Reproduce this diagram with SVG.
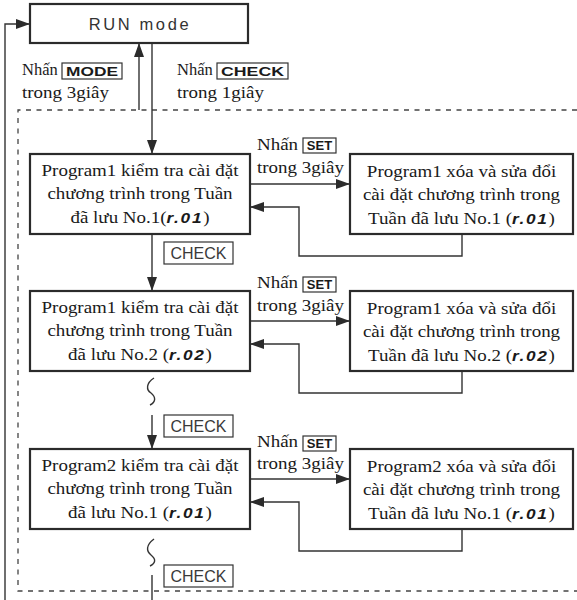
<svg xmlns="http://www.w3.org/2000/svg" width="577" height="600" viewBox="0 0 577 600">
<style>
.bg{fill:#fff}
.box{fill:#fff;stroke:#2b2b2b;stroke-width:2.2}
.key{fill:#fff;stroke:#333;stroke-width:1.2}
.ln{fill:none;stroke:#333;stroke-width:1.4}
.dash{fill:none;stroke:#444;stroke-width:1.3;stroke-dasharray:5 5.5}
.t{font-family:"Liberation Serif","DejaVu Serif",serif;font-size:16.5px;fill:#1a1a1a}
.seg{font-family:"Liberation Sans",Arial,sans-serif;font-weight:bold;font-style:italic;font-size:15px;letter-spacing:1.5px}
.k{font-family:"Liberation Sans",Arial,sans-serif;font-weight:bold;font-size:13px;fill:#1a1a1a}
.c{font-family:"Liberation Sans",Arial,sans-serif;font-size:16px;fill:#3a3a3a}
.run{font-family:"Liberation Sans",Arial,sans-serif;font-size:16.5px;letter-spacing:2.6px;fill:#333}
</style>
<defs>
<marker id="ah" markerWidth="14" markerHeight="10" refX="14" refY="5" orient="auto" markerUnits="userSpaceOnUse"><path d="M0,0 L14,5 L0,10 z" fill="#2b2b2b"/></marker>
</defs>
<rect class="bg" x="0" y="0" width="577" height="600"/>

<g id="connectors">
<path class="dash" d="M577,110 H18 V591 H577"/>
<path class="ln" d="M5,600 V24 H30" marker-end="url(#ah)"/>
<path class="ln" d="M139,110 V43" marker-end="url(#ah)"/>
<path class="ln" d="M152,43 V154" marker-end="url(#ah)"/>
<path class="ln" d="M250,184 H350" marker-end="url(#ah)"/>
<path class="ln" d="M462,234 V256 H299 V207 H250" marker-end="url(#ah)"/>
<path class="ln" d="M152,234 V291" marker-end="url(#ah)"/>
<path class="ln" d="M250,321 H350" marker-end="url(#ah)"/>
<path class="ln" d="M462,371 V393 H299 V344 H250" marker-end="url(#ah)"/>
<path class="ln" d="M154,378 C146,383 146,390 151,393 C156,397 156,402 150,405"/>
<path class="ln" d="M152,415 V449" marker-end="url(#ah)"/>
<path class="ln" d="M250,479 H350" marker-end="url(#ah)"/>
<path class="ln" d="M462,529 V551 H299 V502 H250" marker-end="url(#ah)"/>
<path class="ln" d="M154,539 C146,545 146,551 151,555 C156,559 156,563 150,566"/>
<path class="ln" d="M152,575 V600"/>
</g>

<g id="run-mode">
<rect class="box" x="30" y="4" width="218" height="39"/>
<text class="run" x="140" y="30" text-anchor="middle">RUN mode</text>
</g>

<g id="label-mode">
<text class="t" x="22" y="75" font-size="16">Nhấn</text>
<rect class="key" x="62" y="63" width="60" height="16"/>
<text class="k" x="92" y="76" text-anchor="middle" font-size="14" textLength="52" lengthAdjust="spacingAndGlyphs">MODE</text>
<text class="t" transform="translate(22 98) scale(1.15 1)">trong 3giây</text>
</g>

<g id="label-check-top">
<text class="t" x="177" y="75" font-size="16">Nhấn</text>
<rect class="key" x="217" y="63" width="71" height="16"/>
<text class="k" x="252.5" y="76" text-anchor="middle" font-size="14" textLength="63" lengthAdjust="spacingAndGlyphs">CHECK</text>
<text class="t" transform="translate(177 98) scale(1.15 1)">trong 1giây</text>
</g>

<g id="p1-check-1">
<rect class="box" x="30" y="154" width="220" height="80"/>
<text class="t" transform="translate(140 176) scale(1.15 1)" text-anchor="middle">Program1 kiểm tra cài đặt</text>
<text class="t" transform="translate(140 199) scale(1.15 1)" text-anchor="middle">chương trình trong Tuần</text>
<text class="t" transform="translate(140 223) scale(1.15 1)" text-anchor="middle">đã lưu No.1(<tspan class="seg">r.01</tspan>)</text>
</g>

<g id="set-label-1">
<text class="t" transform="translate(257 150) scale(1.15 1)">Nhấn</text>
<rect class="key" x="303" y="138" width="33" height="15"/>
<text class="k" x="319.5" y="150" text-anchor="middle">SET</text>
<text class="t" transform="translate(257 173) scale(1.15 1)">trong 3giây</text>
</g>

<g id="p1-edit-1">
<rect class="box" x="350" y="154" width="223" height="80"/>
<text class="t" transform="translate(461.5 177) scale(1.15 1)" text-anchor="middle">Program1 xóa và sửa đổi</text>
<text class="t" transform="translate(461.5 200) scale(1.15 1)" text-anchor="middle">cài đặt chương trình trong</text>
<text class="t" transform="translate(461.5 224) scale(1.15 1)" text-anchor="middle">Tuần đã lưu No.1 (<tspan class="seg">r.01</tspan>)</text>
</g>

<g id="check-label-1">
<rect class="key" x="164" y="242" width="69" height="22"/>
<text class="c" x="198.5" y="259" text-anchor="middle">CHECK</text>
</g>

<g id="p1-check-2">
<rect class="box" x="30" y="291" width="220" height="80"/>
<text class="t" transform="translate(140 313) scale(1.15 1)" text-anchor="middle">Program1 kiểm tra cài đặt</text>
<text class="t" transform="translate(140 336) scale(1.15 1)" text-anchor="middle">chương trình trong Tuần</text>
<text class="t" transform="translate(140 360) scale(1.15 1)" text-anchor="middle">đã lưu No.2 (<tspan class="seg">r.02</tspan>)</text>
</g>

<g id="set-label-2">
<text class="t" transform="translate(257 288) scale(1.15 1)">Nhấn</text>
<rect class="key" x="303" y="277" width="33" height="15"/>
<text class="k" x="319.5" y="289" text-anchor="middle">SET</text>
<text class="t" transform="translate(257 311) scale(1.15 1)">trong 3giây</text>
</g>

<g id="p1-edit-2">
<rect class="box" x="350" y="291" width="223" height="80"/>
<text class="t" transform="translate(461.5 314) scale(1.15 1)" text-anchor="middle">Program1 xóa và sửa đổi</text>
<text class="t" transform="translate(461.5 337) scale(1.15 1)" text-anchor="middle">cài đặt chương trình trong</text>
<text class="t" transform="translate(461.5 361) scale(1.15 1)" text-anchor="middle">Tuần đã lưu No.2 (<tspan class="seg">r.02</tspan>)</text>
</g>

<g id="check-label-2">
<rect class="key" x="164" y="415" width="69" height="22"/>
<text class="c" x="198.5" y="432" text-anchor="middle">CHECK</text>
</g>

<g id="p2-check-1">
<rect class="box" x="30" y="449" width="220" height="80"/>
<text class="t" transform="translate(140 471) scale(1.15 1)" text-anchor="middle">Program2 kiểm tra cài đặt</text>
<text class="t" transform="translate(140 494) scale(1.15 1)" text-anchor="middle">chương trình trong Tuần</text>
<text class="t" transform="translate(140 518) scale(1.15 1)" text-anchor="middle">đã lưu No.1 (<tspan class="seg">r.01</tspan>)</text>
</g>

<g id="set-label-3">
<text class="t" transform="translate(257 447) scale(1.15 1)">Nhấn</text>
<rect class="key" x="303" y="436" width="33" height="15"/>
<text class="k" x="319.5" y="448" text-anchor="middle">SET</text>
<text class="t" transform="translate(257 469) scale(1.15 1)">trong 3giây</text>
</g>

<g id="p2-edit-1">
<rect class="box" x="350" y="449" width="223" height="80"/>
<text class="t" transform="translate(461.5 472) scale(1.15 1)" text-anchor="middle">Program2 xóa và sửa đổi</text>
<text class="t" transform="translate(461.5 495) scale(1.15 1)" text-anchor="middle">cài đặt chương trình trong</text>
<text class="t" transform="translate(461.5 519) scale(1.15 1)" text-anchor="middle">Tuần đã lưu No.1 (<tspan class="seg">r.01</tspan>)</text>
</g>

<g id="check-label-3">
<rect class="key" x="164" y="565" width="69" height="22"/>
<text class="c" x="198.5" y="582" text-anchor="middle">CHECK</text>
</g>
</svg>
